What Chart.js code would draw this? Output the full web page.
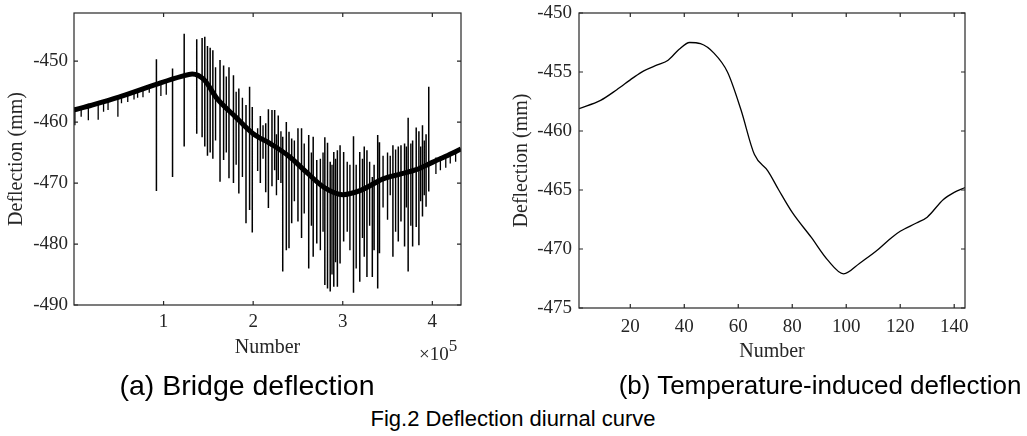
<!DOCTYPE html>
<html>
<head>
<meta charset="utf-8">
<script src="https://cdn.jsdelivr.net/npm/chart.js@4.4.0/dist/chart.umd.min.js"></script>
<style>
  body { margin: 0; width: 1027px; height: 436px; background: #fff; position: relative; overflow: hidden; }
  canvas { position: absolute; top: 0; }
  #chartA { left: 0; }
  #chartB { left: 500px; }
  .cap { position: absolute; font-family: "Liberation Sans", Arial, sans-serif; color: #000; white-space: nowrap; transform: translateX(-50%); line-height: 30px; }
  .expo { position: absolute; left: 419px; top: 338px; font-family: "Liberation Serif", serif; font-size: 19px; color: #262626; white-space: nowrap; }
  .expo sup { font-size: 17px; position: relative; top: -2px; }
</style>
</head>
<body>
<canvas id="chartA" width="500" height="370"></canvas>
<canvas id="chartB" width="510" height="370"></canvas>
<div class="expo">&times;10<sup>5</sup></div>
<div class="cap" style="left:247px; top:370px; font-size:28.5px;">(a) Bridge deflection</div>
<div class="cap" style="left:820px; top:370px; font-size:26px;">(b) Temperature-induced deflection</div>
<div class="cap" style="left:513px; top:404px; font-size:22px;">Fig.2 Deflection diurnal curve</div>

<script>
//? DATOS (a) BRIDGE DEFLECTION

// dense band of the raw record
const bandX = [0, 20000, 50000, 90000, 120000, 132000, 145000, 160000, 180000, 200000, 220000, 240000, 260000, 280000, 300000, 320000, 345000, 365000, 382000, 400000, 415000, 432000];
const bandY = [-458.0, -457.2, -455.9, -453.9, -452.5, -452.1, -453.0, -456.2, -459.1, -461.9, -463.6, -465.6, -468.3, -470.8, -471.9, -471.2, -469.3, -468.5, -467.8, -466.6, -465.6, -464.4];

// big spikes (vertical strokes)
const spikeX = [92000, 110000, 123000, 137000, 143000, 146000, 149000, 152000, 155000, 163000, 167000, 173000, 178000, 184000, 192000, 196000, 199000, 208000, 214000, 217000, 221000, 224000, 228000, 233000, 237000, 240000, 243000, 250000, 254000, 262000, 267000, 271000, 280000, 283000, 286000, 290000, 294000, 297000, 301000, 312000, 319000, 324000, 327000, 333000, 335000, 339000, 341000, 356000, 362000, 365000, 369000, 373000, 378000, 382000, 385000, 389000, 393000, 396000];
const spikeTop = [-449.7, -451.2, -445.5, -446.4, -446.2, -446.0, -447.5, -447.8, -448.2, -449.8, -450.7, -451.0, -452.3, -454.5, -457.2, -454.2, -457.5, -459.0, -460.2, -457.9, -458.0, -458.0, -458.9, -462.4, -460.0, -461.6, -462.7, -461.0, -461.0, -462.1, -462.4, -466.2, -462.5, -463.4, -466.5, -464.9, -464.6, -463.8, -464.9, -462.3, -464.9, -464.0, -464.6, -469.0, -467.0, -462.1, -463.3, -463.8, -464.0, -463.8, -463.5, -459.3, -463.0, -460.9, -461.5, -460.5, -462.0, -454.2];
const spikeLow = [-471.3, -469.0, -464.0, -461.9, -462.5, -464.0, -465.5, -465.0, -466.0, -469.8, -466.2, -469.2, -470.0, -471.7, -476.6, -474.4, -478.1, -470.0, -471.5, -474.1, -470.5, -467.9, -469.5, -484.5, -481.0, -480.7, -476.6, -476.3, -479.0, -484.0, -482.1, -479.9, -486.7, -487.3, -487.8, -487.0, -487.0, -483.2, -479.6, -488.0, -486.2, -482.1, -485.4, -485.4, -481.0, -487.3, -481.5, -482.1, -479.6, -476.3, -480.4, -484.5, -480.4, -477.2, -480.2, -475.5, -473.9, -471.4];

// medium strokes filling the dense middle part
const midX = [158000, 170000, 181000, 188000, 205000, 211000, 226000, 231000, 246000, 257000, 265000, 275000, 278000, 288000, 292000, 305000, 308000, 315000, 322000, 330000, 345000, 350000, 353000, 359000, 371000, 376000, 387000, 391000];
const midTop = [-451.0, -452.5, -455.0, -456.0, -461.0, -460.5, -462.0, -461.5, -463.0, -463.5, -465.0, -466.0, -465.0, -467.0, -466.0, -466.5, -467.0, -467.0, -466.0, -466.5, -465.5, -465.0, -465.5, -464.5, -464.0, -463.5, -464.0, -463.0];
const midLow = [-463.0, -465.0, -467.0, -469.0, -468.0, -466.0, -472.0, -470.0, -473.0, -475.0, -477.0, -481.0, -478.0, -485.0, -483.0, -478.0, -481.0, -484.0, -479.0, -477.0, -474.0, -476.0, -472.0, -478.0, -474.0, -477.0, -473.0, -472.0];

// small noise strokes hanging from the band
const noiseX = [1000, 8000, 16000, 27000, 33000, 38000, 49000, 53000, 60000, 67000, 71000, 77000, 84000, 97000, 103000, 404000, 409000, 415000, 420000, 426000];
const noiseTop = [-457.6, -457.4, -457.0, -456.6, -456.4, -456.1, -455.9, -455.6, -455.3, -455.0, -454.8, -454.5, -454.2, -453.6, -453.2, -465.8, -465.6, -465.4, -465.1, -464.8];
const noiseLow = [-460.5, -459.1, -459.7, -459.6, -458.3, -458.0, -459.1, -456.9, -456.7, -456.3, -456.0, -455.9, -455.2, -455.7, -455.5, -468.5, -467.9, -467.5, -466.8, -466.5];

const xTicksA = [100000, 200000, 300000, 400000];
const yTicksA = [-490, -480, -470, -460, -450];

//? DATOS (b) TEMPERATURE-INDUCED DEFLECTION

const tempX = [1, 9, 15, 21, 25, 30, 34, 38, 42, 46, 51, 56, 61, 66, 71, 75, 80, 87, 93, 99, 105, 111, 117, 120, 126, 130, 136, 140, 144];
const tempY = [-458.1, -457.4, -456.5, -455.5, -454.9, -454.4, -454.0, -453.1, -452.5, -452.6, -453.4, -455.0, -458.2, -462.0, -463.4, -465.0, -466.9, -469.0, -470.9, -472.1, -471.2, -470.2, -469.0, -468.5, -467.8, -467.3, -465.8, -465.2, -464.8];

const xTicksB = [20, 40, 60, 80, 100, 120, 140];
const yTicksB = [-475, -470, -465, -460, -455, -450];

const ink = "#262626";
const serif = "'Liberation Serif', 'Times New Roman', serif";

//? PLUGIN: CAJA Y TICKS HACIA ADENTRO

const frameTicks = {
  id: "frameTicks",
  afterDraw(chart) {
    const { ctx, chartArea: a, scales: { x, y } } = chart;
    ctx.save();
    ctx.strokeStyle = ink;
    ctx.lineWidth = 1.2;
    ctx.strokeRect(a.left, a.top, a.right - a.left, a.bottom - a.top);
    ctx.beginPath();
    x.ticks.forEach((t) => {
      const px = x.getPixelForValue(t.value);
      ctx.moveTo(px, a.bottom); ctx.lineTo(px, a.bottom - 4);
      ctx.moveTo(px, a.top); ctx.lineTo(px, a.top + 4);
    });
    y.ticks.forEach((t) => {
      const py = y.getPixelForValue(t.value);
      ctx.moveTo(a.left, py); ctx.lineTo(a.left + 4, py);
      ctx.moveTo(a.right, py); ctx.lineTo(a.right - 4, py);
    });
    ctx.stroke();
    ctx.restore();
  },
};

//? FUNCIONES AUXILIARES

function strokes(xs, tops, lows) {
  const pts = [];
  xs.forEach((x, i) => {
    pts.push({ x, y: tops[i] }, { x, y: lows[i] }, { x, y: null });
  });
  return pts;
}

function pairs(xs, ys) {
  return xs.map((x, i) => ({ x, y: ys[i] }));
}

function axes(cfg) {
  return {
    x: {
      type: "linear",
      min: cfg.xMin,
      max: cfg.xMax,
      grid: { display: false, drawTicks: false },
      border: { display: false },
      afterBuildTicks: (s) => { s.ticks = cfg.xTicks.map((v) => ({ value: v })); },
      afterFit: (s) => { s.height = cfg.xHeight; s.paddingLeft = 0; s.paddingRight = 0; },
      ticks: {
        color: ink,
        font: { family: serif, size: 19 },
        padding: cfg.xPad,
        maxRotation: 0,
        callback: cfg.xLabel,
      },
      title: {
        display: true,
        text: "Number",
        color: ink,
        font: { family: serif, size: 20 },
        padding: { top: 0, bottom: cfg.xTitlePad },
      },
    },
    y: {
      type: "linear",
      min: cfg.yMin,
      max: cfg.yMax,
      grid: { display: false, drawTicks: false },
      border: { display: false },
      afterBuildTicks: (s) => { s.ticks = cfg.yTicks.map((v) => ({ value: v })); },
      afterFit: (s) => { s.width = cfg.yWidth; s.paddingTop = 0; s.paddingBottom = 0; },
      ticks: {
        color: ink,
        font: { family: serif, size: 19 },
        padding: cfg.yPad,
        callback: (v) => String(v),
      },
      title: {
        display: true,
        text: "Deflection (mm)",
        color: ink,
        font: { family: serif, size: 20 },
        padding: { top: cfg.yTitlePad, bottom: 0 },
      },
    },
  };
}

const base = {
  responsive: false,
  animation: false,
  plugins: { legend: { display: false }, tooltip: { enabled: false } },
  elements: { point: { radius: 0 } },
};

//? GRAFICO (a)

new Chart("chartA", {
  type: "line",
  data: {
    datasets: [
      { data: strokes(spikeX, spikeTop, spikeLow), borderColor: "#000", borderWidth: 1.5, spanGaps: false, tension: 0 },
      { data: strokes(midX, midTop, midLow), borderColor: "#000", borderWidth: 1.4, spanGaps: false, tension: 0 },
      { data: strokes(noiseX, noiseTop, noiseLow), borderColor: "#000", borderWidth: 1.3, spanGaps: false, tension: 0 },
      { data: pairs(bandX, bandY), borderColor: "#000", borderWidth: 5, cubicInterpolationMode: "monotone" },
    ],
  },
  options: {
    ...base,
    layout: { padding: { left: 0, top: 13, right: 39, bottom: 0 } },
    scales: axes({
      xMin: 0, xMax: 432000, xTicks: xTicksA, xHeight: 65, xPad: 6, xTitlePad: 10,
      xLabel: (v) => String(v / 100000),
      yMin: -490, yMax: -442.1, yTicks: yTicksA, yWidth: 74, yPad: 6, yTitlePad: 5,
    }),
  },
  plugins: [frameTicks],
});

//? GRAFICO (b)

new Chart("chartB", {
  type: "line",
  data: {
    datasets: [
      { data: pairs(tempX, tempY), borderColor: "#000", borderWidth: 1.3, cubicInterpolationMode: "monotone" },
    ],
  },
  options: {
    ...base,
    layout: { padding: { left: 0, top: 13, right: 45, bottom: 0 } },
    scales: axes({
      xMin: 1, xMax: 144, xTicks: xTicksB, xHeight: 62, xPad: 8, xTitlePad: 6,
      xLabel: (v) => String(v),
      yMin: -475, yMax: -450, yTicks: yTicksB, yWidth: 79, yPad: 7, yTitlePad: 10,
    }),
  },
  plugins: [frameTicks],
});
</script>
</body>
</html>
